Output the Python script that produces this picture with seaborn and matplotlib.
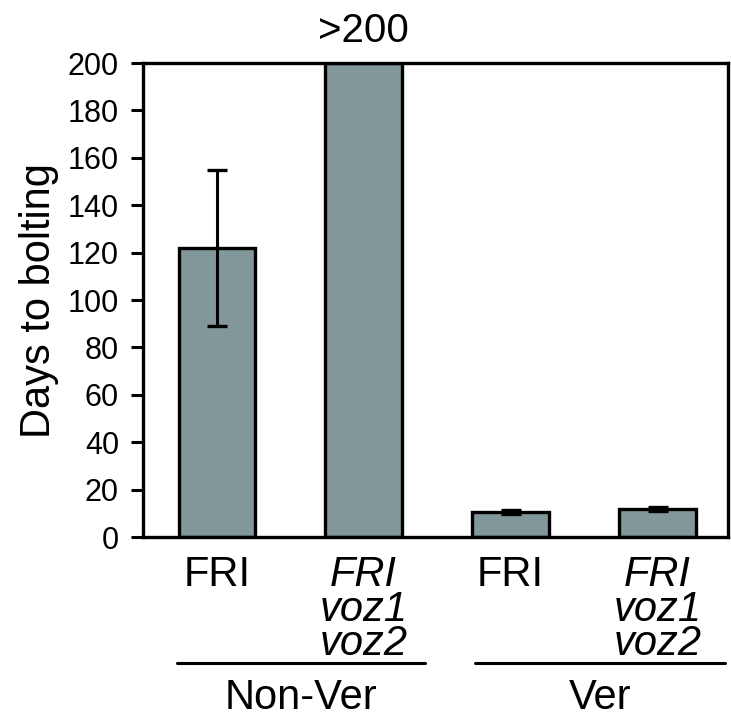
import matplotlib
matplotlib.use("Agg")
import matplotlib.pyplot as plt
import matplotlib.transforms as mtransforms
import seaborn as sns
import pandas as pd

# Dados
amostras = ["Non-Ver FRI", "Non-Ver FRI voz1 voz2", "Ver FRI", "Ver FRI voz1 voz2"]
rotulos = ["FRI", "FRI\nvoz1\nvoz2", "FRI", "FRI\nvoz1\nvoz2"]
italico = [False, True, False, True]
dias = [122, 200, 10.5, 11.8]
erro = [33, 0, 0.8, 1.0]
grupos = ["Non-Ver", "Ver"]

COR_BARRA = "#82979a"

sns.set_theme(style="white")
plt.rcParams.update({
    "font.family": ["Liberation Sans", "DejaVu Sans"],
    "text.color": "black",
    "axes.labelcolor": "black",
    "xtick.color": "black",
    "ytick.color": "black",
})

df = pd.DataFrame({"amostra": amostras, "dias": dias, "erro": erro})

fig = plt.figure(figsize=(7.31, 7.17), dpi=100)
ax = fig.add_axes([0.196, 0.251, 0.800, 0.661])

sns.barplot(data=df, x="amostra", y="dias", color=COR_BARRA, saturation=1,
            width=0.52, edgecolor="black", linewidth=2.4, errorbar=None, ax=ax)

# barras de erro (só onde existe)
mask = df["erro"] > 0
ax.errorbar(df.index[mask], df["dias"][mask], yerr=df["erro"][mask],
            fmt="none", ecolor="black", elinewidth=2.2, capsize=7.5,
            capthick=2.4, zorder=3)

ax.set_ylim(0, 200)
ax.set_xlim(-0.5, 3.48)
ax.set_yticks(range(0, 201, 20))
ax.tick_params(axis="y", direction="out", length=8.5, width=2.2,
               labelsize=22, pad=9, left=True)
ax.tick_params(axis="x", length=0, labelsize=30, pad=13)
ax.set_xticks(range(len(rotulos)))
ax.set_xticklabels(rotulos, linespacing=0.82, va="top")
for lab, it in zip(ax.get_xticklabels(), italico):
    if it:
        lab.set_style("italic")

for sp in ax.spines.values():
    sp.set_linewidth(2.4)
    sp.set_color("black")

ax.set_xlabel("")
ax.set_ylabel("Days to bolting", fontsize=30, labelpad=6)

trans = mtransforms.blended_transform_factory(ax.transData, ax.transAxes)
ax.text(1, 1.044, ">200", transform=trans, ha="center", va="baseline",
        fontsize=29)

# linhas e nomes dos grupos
faixas = [(-0.27, 1.42), (1.76, 3.46)]
for nome, (x0, x1) in zip(grupos, faixas):
    ax.plot([x0, x1], [-0.266, -0.266], transform=trans, color="black",
            linewidth=2.2, clip_on=False)
    ax.text((x0 + x1) / 2, -0.362, nome, transform=trans, ha="center",
            va="baseline", fontsize=30)

fig.savefig("out.png", dpi=100)
